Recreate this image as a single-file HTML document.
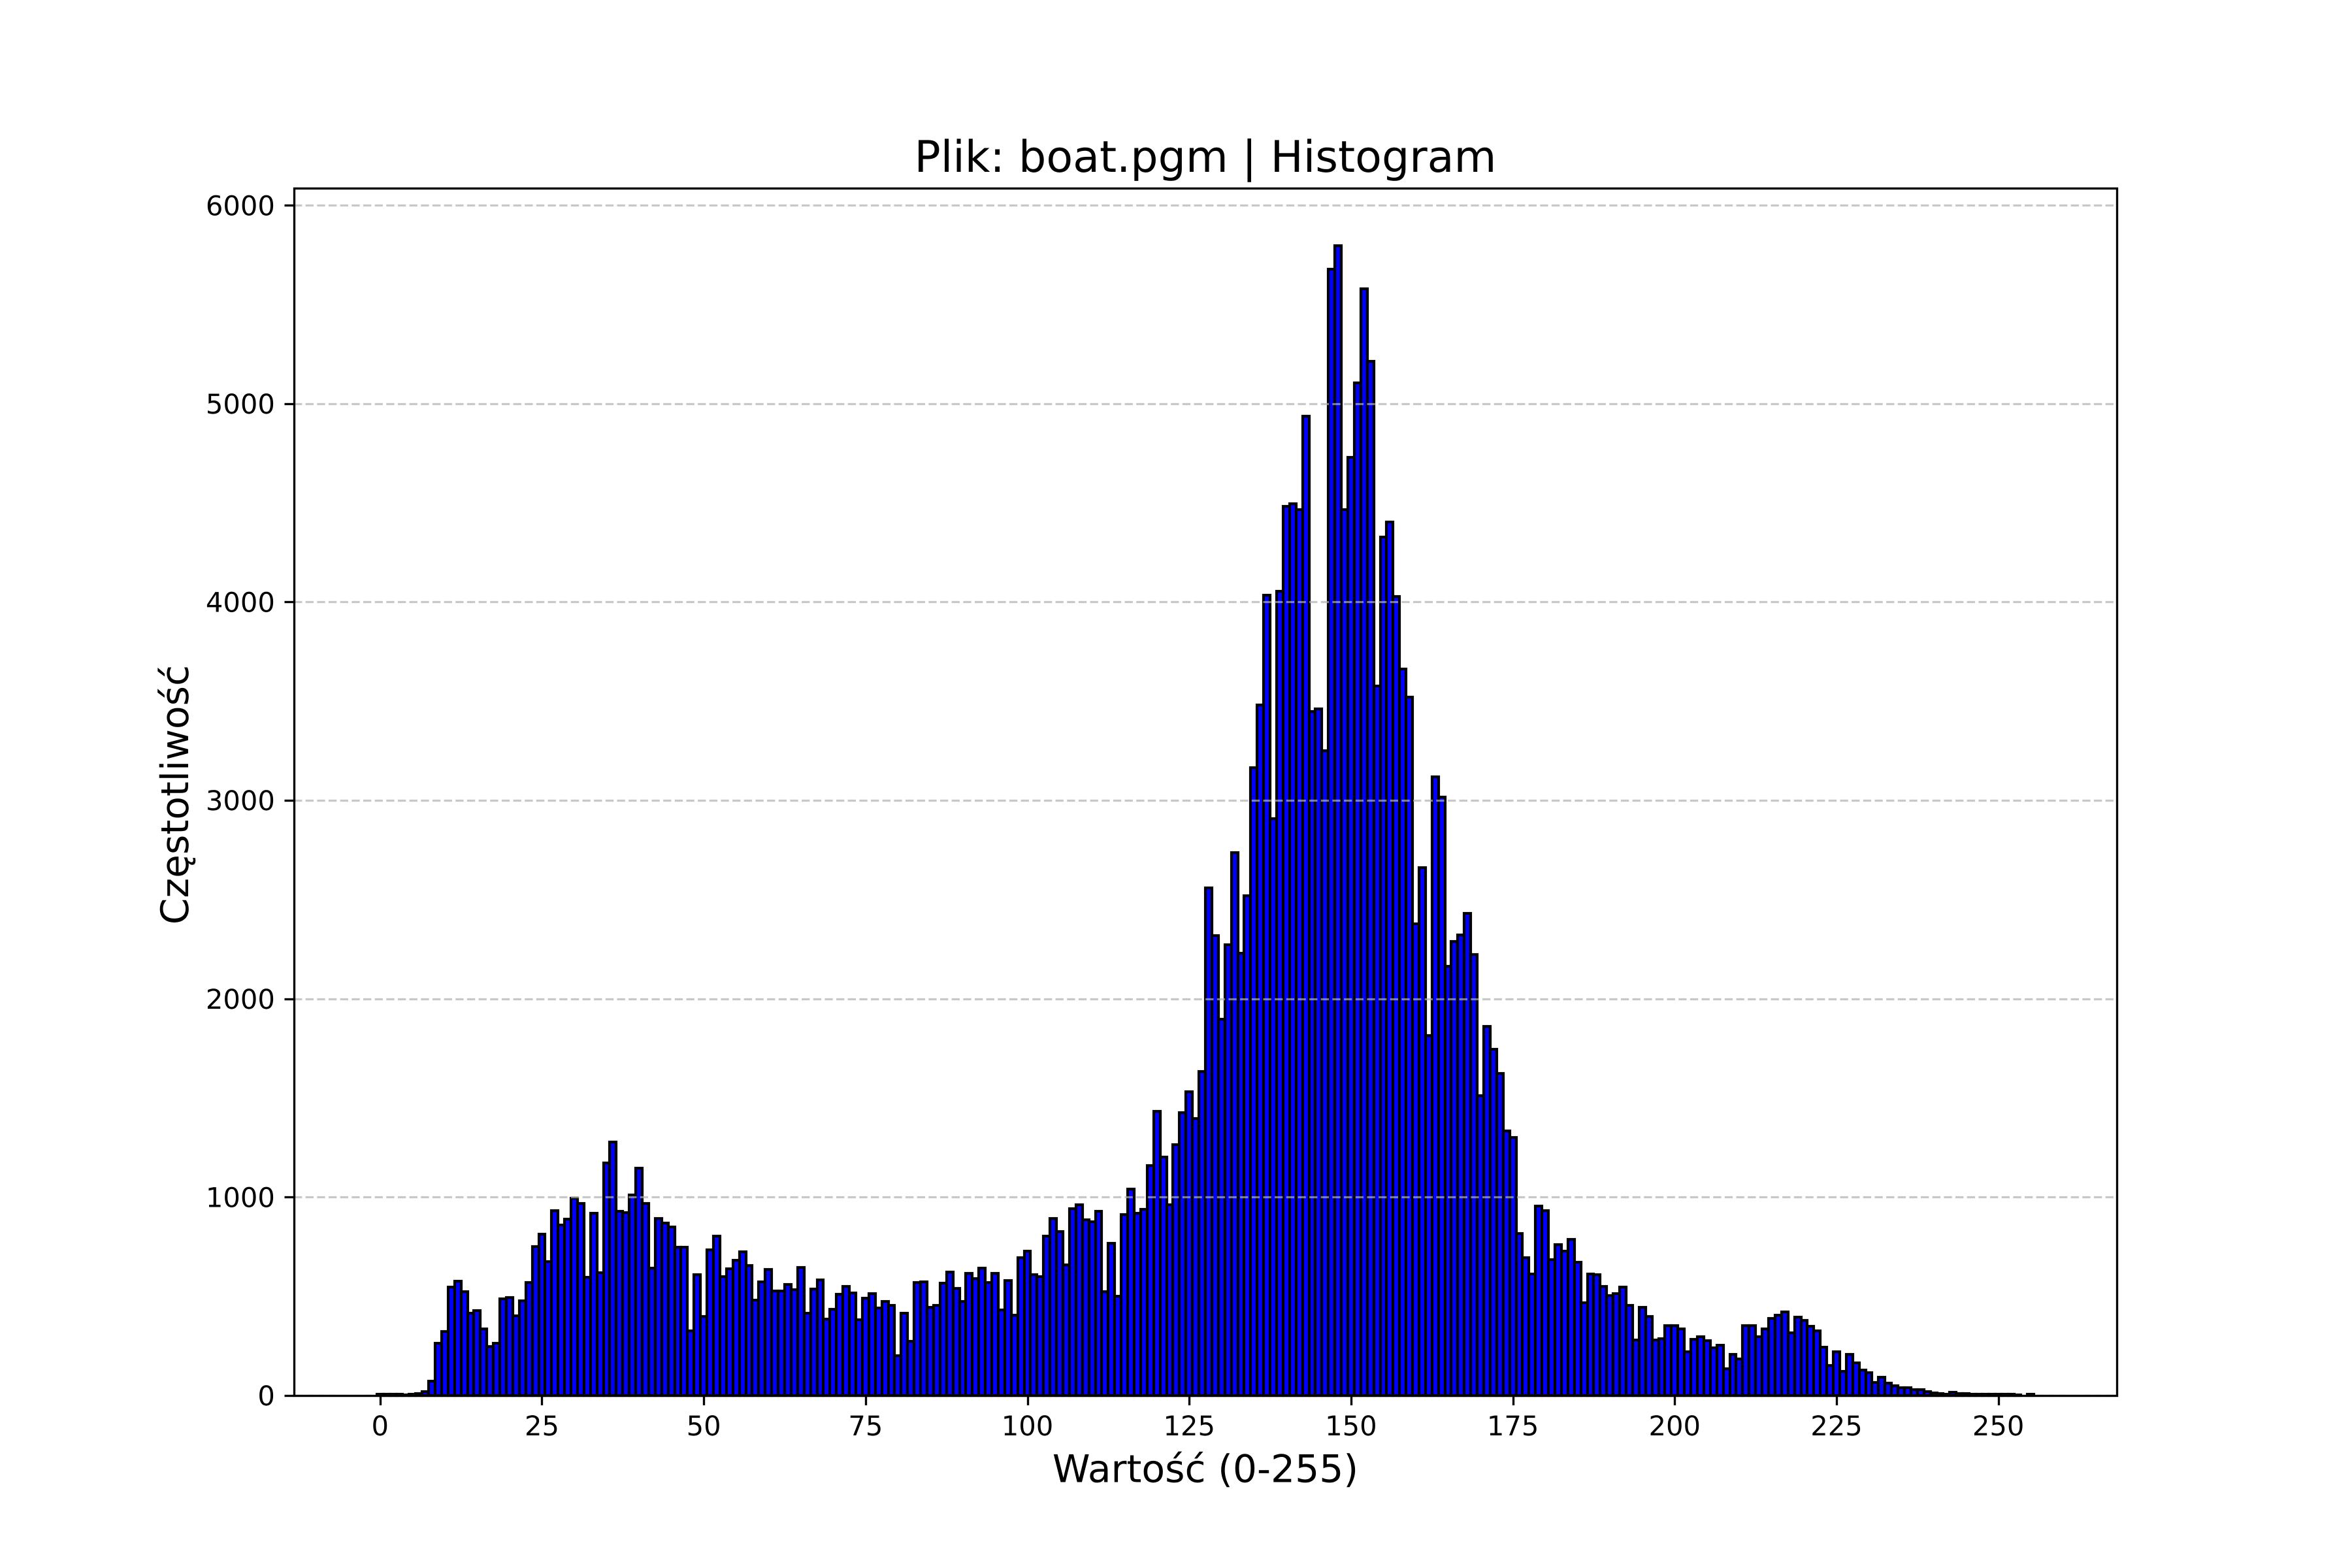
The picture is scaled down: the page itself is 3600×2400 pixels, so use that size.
<!DOCTYPE html>
<html lang="pl">
<head>
<meta charset="utf-8">
<title>Plik: boat.pgm | Histogram</title>
<style>
html,body{margin:0;padding:0;background:#fff;}
svg{display:block;}
text{font-family:"DejaVu Sans",sans-serif;fill:#000;text-rendering:geometricPrecision;}
</style>
</head>
<body>
<svg id="chart" xmlns="http://www.w3.org/2000/svg" width="3600" height="2400" viewBox="0 0 3600 2400">
  <rect x="0" y="0" width="3600" height="2400" fill="#ffffff"/>
  <rect x="450" y="288" width="2790" height="1848" fill="#ffffff"/>
  <g id="bars"></g>
  <g id="grid"></g>
  <g id="xticks"></g>
  <g id="yticks"></g>
  <rect x="450.5" y="288.5" width="2790" height="1848" fill="none" stroke="#000" stroke-width="3.33"/>
  <text x="1845" y="263" font-size="66.67" text-anchor="middle">Plik: boat.pgm | Histogram</text>
  <text x="1845" y="2268.5" font-size="58.33" text-anchor="middle">Wartość (0-255)</text>
  <text transform="translate(288 1216.6) rotate(-90)" x="0" y="0" font-size="58.33" text-anchor="middle">Częstotliwość</text>
</svg>
<script>
const frequencies = [
  8,8,8,7,3,6,11,21,72,262,
  322,548,576,523,415,428,335,247,263,487,
  494,401,478,569,750,813,675,931,860,889,
  995,969,595,919,619,1173,1278,928,922,1010,
  1146,969,641,893,869,849,748,748,325,609,
  398,734,803,601,640,681,725,656,481,573,
  635,528,528,560,532,647,415,536,582,384,
  436,511,549,516,381,492,515,440,475,454,
  201,415,272,569,573,443,454,565,622,539,
  473,615,589,641,571,615,431,579,406,695,
  729,608,598,802,893,826,660,942,960,886,
  875,928,522,766,499,912,1041,919,939,1158,
  1432,1201,960,1264,1425,1531,1395,1632,2559,2319,
  1897,2272,2737,2229,2519,3164,3482,4035,2909,4054,
  4482,4495,4464,4938,3447,3461,3250,5679,5796,4464,
  4729,5105,5579,5214,3576,4327,4404,4027,3663,3520,
  2379,2662,1816,3117,3016,2164,2288,2323,2431,2223,
  1513,1860,1745,1622,1334,1301,816,696,612,955,
  932,684,761,727,787,672,469,613,609,551,
  504,514,548,454,279,445,399,279,286,353,
  353,335,219,284,296,276,240,253,135,207,
  185,352,352,295,335,388,405,421,316,394,
  378,349,327,244,152,220,121,207,164,128,
  115,66,92,62,49,38,38,31,31,20,
  14,11,7,16,11,11,5,7,7,5,
  5,7,5,2,1,5
];
const xTickLabels = [0,25,50,75,100,125,150,175,200,225,250];
const yTickLabels = [0,1000,2000,3000,4000,5000,6000];

const NS = 'http://www.w3.org/2000/svg';
const plot = {left:450, right:3240, top:288, bottom:2136};
const xMin = -0.5 - 0.05 * 256;
const xMax = 255.5 + 0.05 * 256;
const yMax = 1.05 * Math.max.apply(null, frequencies);

function xScale(v){ return plot.left + (v - xMin) / (xMax - xMin) * (plot.right - plot.left); }
function yScale(v){ return plot.bottom - v / yMax * (plot.bottom - plot.top); }
function snapLine(p){ return Math.round(p) + 0.5; }
function make(tag, attrs, parent){
  const el = document.createElementNS(NS, tag);
  Object.keys(attrs).forEach(function(k){ el.setAttribute(k, attrs[k]); });
  parent.appendChild(el);
  return el;
}

const barsGroup = document.getElementById('bars');
frequencies.forEach(function(value, i){
  const x0 = Math.round(xScale(i - 0.5));
  const x1 = Math.round(xScale(i + 0.5));
  const y = Math.round(yScale(value));
  const el = make('rect', {x:x0, y:y, width:x1 - x0, height:plot.bottom - y, fill:'#0000ff', stroke:'#000000', 'stroke-width':4.17}, barsGroup);
  
  
});

const gridGroup = document.getElementById('grid');
const yTickGroup = document.getElementById('yticks');
yTickLabels.forEach(function(value){
  const y = yScale(value);
  if (y < plot.top) return;
  const ySnap = snapLine(y);
  const line = make('line', {x1:plot.left, x2:plot.right, y1:ySnap, y2:ySnap, stroke:'#b0b0b0', 'stroke-opacity':0.7, 'stroke-width':3.33, 'stroke-dasharray':'12.33 5.33'}, gridGroup);
  
  
  const tick = make('line', {x1:plot.left - 14.5, x2:plot.left, y1:ySnap, y2:ySnap, stroke:'#000', 'stroke-width':3.33}, yTickGroup);
  
  
  const label = make('text', {x:plot.left - 29.17, y:y + 15.2, 'font-size':41.67, 'text-anchor':'end'}, yTickGroup);
  label.textContent = String(value);
  
  
});

const xTickGroup = document.getElementById('xticks');
xTickLabels.forEach(function(value){
  const x = xScale(value);
  const xSnap = snapLine(x);
  const tick = make('line', {x1:xSnap, x2:xSnap, y1:plot.bottom, y2:plot.bottom + 15, stroke:'#000', 'stroke-width':3.33}, xTickGroup);
  
  
  const label = make('text', {x:x, y:plot.bottom + 61, 'font-size':41.67, 'text-anchor':'middle'}, xTickGroup);
  label.textContent = String(value);
  
  
});
</script>
</body>
</html>
